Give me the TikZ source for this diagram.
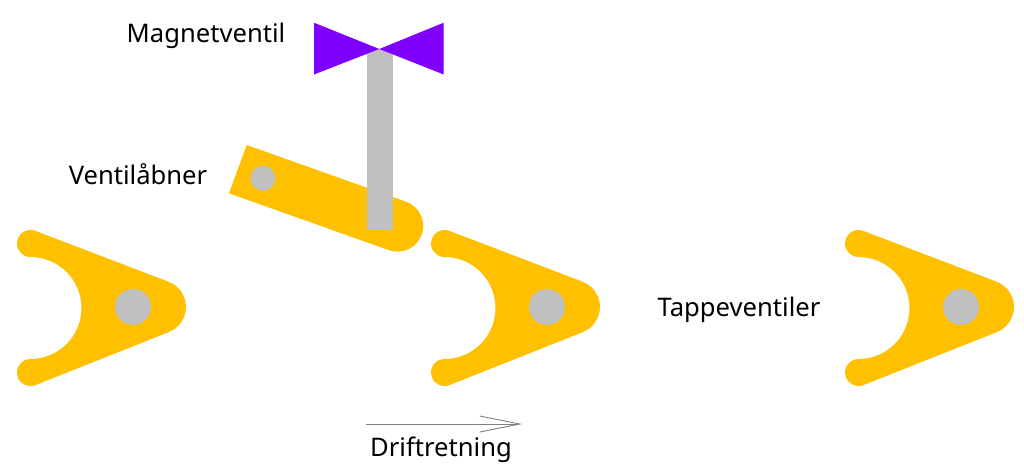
\documentclass[tikz,border=0pt]{standalone}
\usepackage{fontspec}
\setmainfont{Noto Sans}
\usetikzlibrary{arrows.meta}
\definecolor{gold}{HTML}{FFC000}
\definecolor{pin}{HTML}{C0C0C0}
\definecolor{valve}{HTML}{8000FF}
\definecolor{flow}{HTML}{808080}
\tikzset{
  goldpart/.style={fill=gold,draw=none},
  pinpart/.style={fill=pin,draw=none},
  lbl/.style={font=\fontsize{25.6}{26}\selectfont,text=black,inner sep=0pt,anchor=base},
  flowline/.style={draw=flow,line width=0.9pt,-{Straight Barb[length=40pt,width=16pt,line width=0.9pt]}}
}
\begin{document}
\begin{tikzpicture}[x=1pt,y=1pt,yscale=-1]
\useasboundingbox (0,0) rectangle (1024,466);
\fill[white] (0,0) rectangle (1024,466);
\foreach \dx in {0,414,828} {
  \begin{scope}[xshift=\dx pt]
    \fill[goldpart] (30.5,257) arc (90:291.3:13.5) -- (168.8,281.8) arc (-68.7:68.7:27)
      -- (35.4,385.1) arc (68.7:270:13.5) arc (90:-90:51) -- cycle;
    \fill[pinpart] (133,307) circle (18);
  \end{scope}
}
% lever
\fill[goldpart] (246.7,145) -- (406.3,201.8) arc (-70:110:25.7) -- (229,193.3) -- cycle;
\fill[pinpart] (263,178.3) circle (12.5);
% rod and valve
\fill[pinpart] (366.5,49) rectangle (392.5,229.5);
\fill[valve] (314,22.7) -- (379.3,49) -- (443.7,22.7) -- (443.7,74.5) -- (379.3,49) -- (314,74.5) -- cycle;
% labels
\node[lbl] (magnet) at (206,42) {Magnetventil};
\node[lbl] (opener) at (138,184) {Ventilåbner};
\node[lbl] (tappet) at (739,316) {Tappeventiler};
\node[lbl] (drift) at (441,456) {Driftretning};
\coordinate (flowstart) at (366,424);
\coordinate (flowend) at (522,424);
\draw[flowline] (flowstart) -- (flowend);
\end{tikzpicture}
\end{document}
